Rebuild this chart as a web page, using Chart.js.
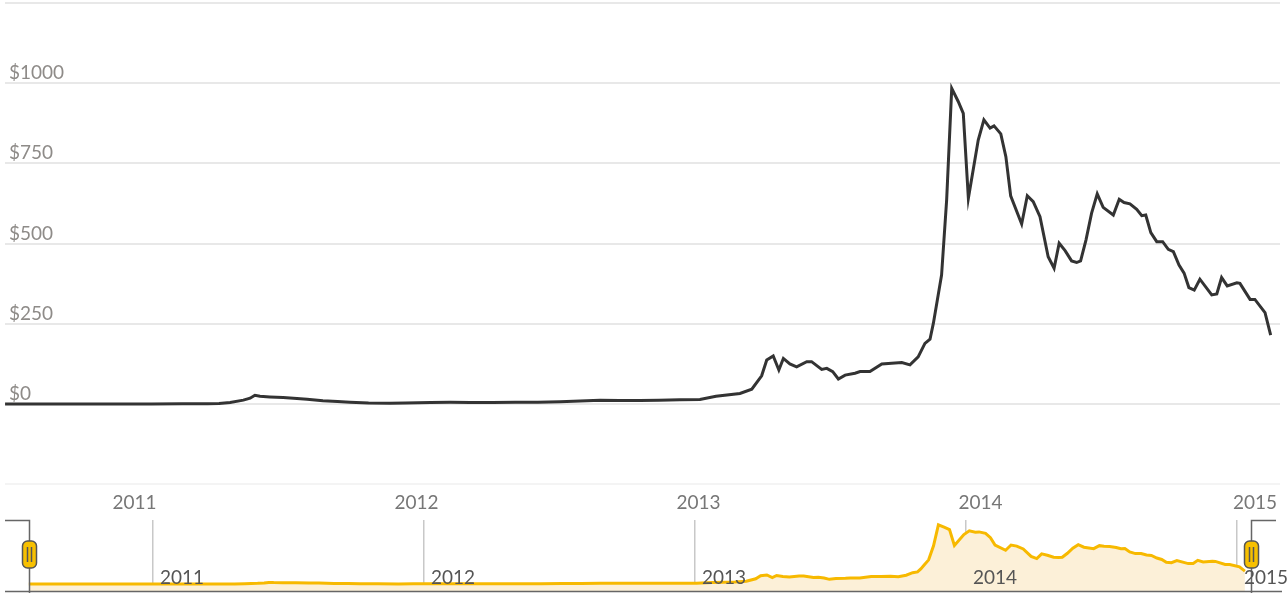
<!DOCTYPE html>
<html><head><meta charset="utf-8">
<script src="https://cdn.jsdelivr.net/npm/chart.js@4.4.1/dist/chart.umd.min.js"></script>
<style>
html,body{margin:0;padding:0;background:#fff;width:1287px;height:593px;overflow:hidden;}
#main{position:absolute;left:0;top:0;}
#nav{position:absolute;left:0;top:505px;}
</style></head><body>
<canvas id="main" width="1287" height="520"></canvas>
<canvas id="nav" width="1287" height="88"></canvas>
<script>
// Time as decimal years, price in USD
const times = [
  2010.541, 2010.65, 2010.76, 2010.87, 2010.96,
  2011.06, 2011.17, 2011.26, 2011.30, 2011.339,
  2011.386, 2011.41, 2011.427, 2011.445, 2011.48,
  2011.527, 2011.576, 2011.612, 2011.668, 2011.72,
  2011.764, 2011.83, 2011.906, 2011.96, 2012.05,
  2012.12, 2012.19, 2012.27, 2012.35, 2012.43,
  2012.509, 2012.58, 2012.651, 2012.72, 2012.793,
  2012.86, 2012.934, 2013.005, 2013.062, 2013.147,
  2013.189, 2013.224, 2013.242, 2013.265, 2013.285,
  2013.301, 2013.324, 2013.348, 2013.384, 2013.401,
  2013.437, 2013.455, 2013.476, 2013.496, 2013.52,
  2013.555, 2013.573, 2013.608, 2013.65, 2013.685,
  2013.721, 2013.75, 2013.779, 2013.803, 2013.821,
  2013.833, 2013.847, 2013.862, 2013.88, 2013.898,
  2013.921, 2013.939, 2013.957, 2013.992, 2014.012,
  2014.034, 2014.048, 2014.072, 2014.09, 2014.107,
  2014.146, 2014.166, 2014.187, 2014.211, 2014.24,
  2014.261, 2014.279, 2014.3, 2014.323, 2014.341,
  2014.355, 2014.374, 2014.394, 2014.414, 2014.435,
  2014.471, 2014.492, 2014.509, 2014.53, 2014.554,
  2014.572, 2014.586, 2014.604, 2014.625, 2014.646,
  2014.666, 2014.684, 2014.704, 2014.722, 2014.739,
  2014.758, 2014.778, 2014.82, 2014.838, 2014.855,
  2014.875, 2014.909, 2014.92, 2014.956, 2014.973,
  2015.009, 2015.029
];
const prices = [
  0.1, 0.1, 0.1, 0.2, 0.3,
  0.3, 0.8, 0.9, 1.5, 5,
  12, 18, 27, 24, 22,
  20, 17, 15, 10, 8,
  5.5, 3, 2.5, 3.5, 5,
  5.5, 5, 5, 5.2, 5.5,
  7, 9, 11.5, 11, 11,
  12, 13, 14, 24, 33,
  46, 88, 137, 150, 106,
  142, 125, 116, 132, 132,
  108, 111, 101, 78, 90,
  96, 101, 101, 125, 127,
  129, 122, 147, 189, 202,
  252, 324, 402, 636, 984,
  943, 906, 641, 823, 886,
  860, 867, 842, 771, 649,
  561, 649, 631, 584, 459,
  423, 501, 478, 446, 441,
  446, 511, 595, 655, 613,
  589, 638, 628, 624, 607,
  587, 589, 534, 506, 506,
  482, 475, 433, 408, 363,
  355, 389, 340, 343, 394,
  368, 378, 376, 326, 326,
  285, 215
];
const yearTicks = [2011, 2012, 2013, 2014, 2015];
const yearLabels = ['2011', '2012', '2013', '2014', '2015'];
const priceTicks = [-250, 0, 250, 500, 750, 1000, 1250];
const priceLabels = ['', '$0', '$250', '$500', '$750', '$1000', ''];

const points = times.map((t, i) => ({x: t, y: prices[i]}));
const FONT = '19px Lato';

const mainText = {
  id: 'mainText',
  afterDraw(chart) {
    const ctx = chart.ctx, xs = chart.scales.x, ys = chart.scales.y, ca = chart.chartArea;
    ctx.save();
    ctx.font = FONT;
    ctx.textBaseline = 'alphabetic';
    ctx.textAlign = 'left';
    ctx.fillStyle = '#8e8b88';
    priceTicks.forEach((v, i) => {
      if (!priceLabels[i]) return;
      ctx.fillText(priceLabels[i], ca.left + 4, ys.getPixelForValue(v) - 4);
    });
    ctx.fillStyle = '#777';
    yearTicks.forEach((v, i) => {
      const w = ctx.measureText(yearLabels[i]).width;
      let x = xs.getPixelForValue(v) - w / 2;
      if (x + w > chart.width - 10) x = chart.width - 10 - w;
      ctx.fillText(yearLabels[i], x, ca.bottom + 24.5);
    });
    ctx.restore();
  }
};

new Chart(document.getElementById('main'), {
  type: 'line',
  data: { datasets: [{
    data: points, borderColor: '#333', borderWidth: 3, pointRadius: 0,
    tension: 0, fill: false
  }]},
  options: {
    responsive: false, devicePixelRatio: 1, animation: false,
    layout: { padding: { left: 5, right: 7, top: 3, bottom: 35.8 } },
    plugins: { legend: { display: false }, tooltip: { enabled: false } },
    scales: {
      x: { type: 'linear', min: 2010.5408, max: 2015.0621, display: false },
      y: {
        min: -250, max: 1250,
        afterBuildTicks: s => { s.ticks = priceTicks.map(v => ({value: v})); },
        ticks: { display: false },
        border: { display: false },
        grid: { drawTicks: false, lineWidth: 2,
          color: c => c.tick && c.tick.value === -250 ? '#f4f4f4' : '#e8e8e8' }
      }
    }
  },
  plugins: [mainText]
});

const navDecor = {
  id: 'navDecor',
  afterDraw(chart) {
    const ctx = chart.ctx, xs = chart.scales.x, ca = chart.chartArea;
    const xl = Math.round(xs.getPixelForValue(xs.min)) + 0.5;
    const xr = Math.round(xs.getPixelForValue(xs.max)) + 0.5;
    const top = ca.top + 0.5, bot = chart.height;
    ctx.save();
    ctx.strokeStyle = '#666';
    ctx.lineWidth = 1.5;
    ctx.beginPath();
    ctx.moveTo(5, Math.round(ca.bottom) + 0.5); ctx.lineTo(chart.width - 5, Math.round(ca.bottom) + 0.5);
    ctx.stroke();
    ctx.beginPath();
    ctx.moveTo(5, top); ctx.lineTo(xl, top); ctx.lineTo(xl, bot);
    ctx.moveTo(chart.width - 11, top); ctx.lineTo(xr, top); ctx.lineTo(xr, bot);
    ctx.stroke();
    [xl, xr].forEach(x => {
      const hy = ca.top + 21, hw = 14, hh = 27;
      ctx.beginPath();
      ctx.roundRect(x - hw / 2, hy, hw, hh, 5);
      ctx.fillStyle = '#f7c000';
      ctx.fill();
      ctx.strokeStyle = '#555';
      ctx.lineWidth = 1.5;
      ctx.stroke();
      ctx.beginPath();
      ctx.moveTo(x - 2, hy + 6); ctx.lineTo(x - 2, hy + hh - 6);
      ctx.moveTo(x + 2, hy + 6); ctx.lineTo(x + 2, hy + hh - 6);
      ctx.stroke();
    });
    ctx.font = FONT;
    ctx.fillStyle = '#555';
    ctx.textAlign = 'left';
    ctx.textBaseline = 'alphabetic';
    yearTicks.forEach((v, i) => {
      ctx.fillText(yearLabels[i], xs.getPixelForValue(v) + 7, ca.bottom - 7);
    });
    ctx.restore();
  }
};

new Chart(document.getElementById('nav'), {
  type: 'line',
  data: { datasets: [{
    data: points, borderColor: '#f7b900', borderWidth: 3, pointRadius: 0,
    tension: 0, fill: 'start', backgroundColor: '#fcf0d8'
  }]},
  options: {
    responsive: false, devicePixelRatio: 1, animation: false,
    layout: { padding: { left: 28.6, right: 36.4, top: 15, bottom: 2 } },
    plugins: { legend: { display: false }, tooltip: { enabled: false } },
    scales: {
      x: {
        type: 'linear', min: 2010.5408, max: 2015.05,
        afterBuildTicks: s => { s.ticks = yearTicks.map(v => ({value: v})); },
        ticks: { display: false },
        border: { display: false },
        grid: { drawTicks: false, color: '#c8c8c8', lineWidth: 1.5 }
      },
      y: { min: -116, max: 1065, display: false }
    }
  },
  plugins: [navDecor]
});
</script>
</body></html>
